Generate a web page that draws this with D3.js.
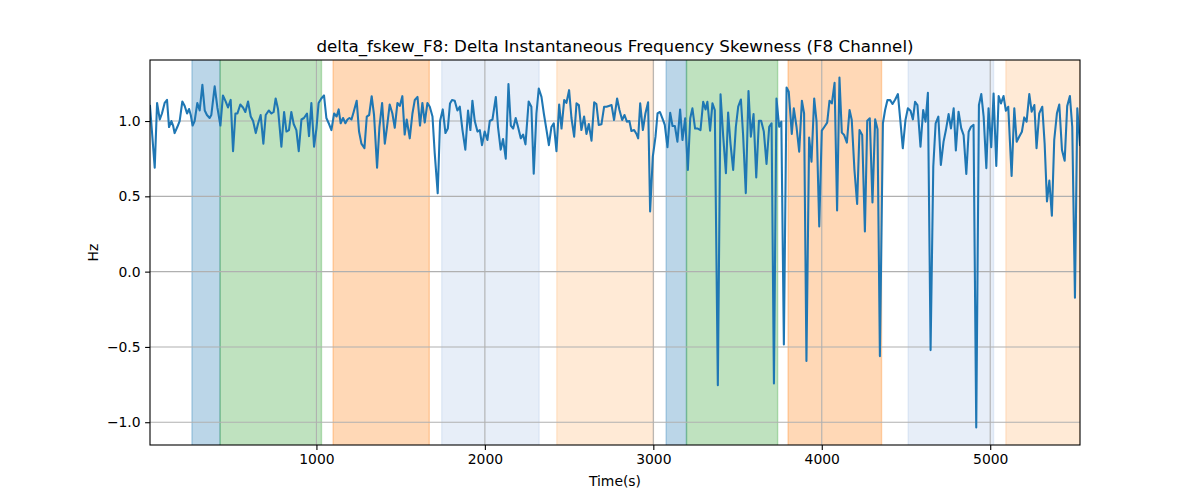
<!DOCTYPE html>
<html><head><meta charset="utf-8">
<script src="https://cdn.jsdelivr.net/npm/d3@7"></script>
<style>body{margin:0;background:#fff} svg{display:block} text{font-family:"DejaVu Sans",sans-serif;fill:#000}</style>
</head><body><svg id="c" width="1200" height="500"></svg>
<script>
const times = [
12,40,54,70,83,99,113,125,139,149,158,174,188,204,218,232,244,254,265,277,
293,307,323,337,350,366,376,396,412,430,445,461,475,491,505,519,531,548,564,578,
594,610,624,640,653,669,685,699,717,733,746,758,772,792,808,822,837,851,865,881,
895,911,926,944,956,970,986,1000,1013,1029,1045,1059,1075,1089,1105,1120,
1132,1144,1158,1172,1184,1196,1208,1221,1239,1253,1267,1285,1299,1313,1328,1342,1360,1374,1390,1406,
1419,1435,1451,1465,1481,1495,1510,1524,1536,1554,1570,1584,1600,1615,1629,1643,1659,1673,1689,1702,
1720,1734,1750,1766,1780,1793,1805,1821,1837,1851,1867,1884,1900,1914,1926,1940,1956,1970,1983,1999,
2015,2029,2045,2065,2078,2094,2108,2124,2140,2154,2168,2183,2197,2213,2227,2241,2260,2276,2290,
2306,2320,2336,2350,2366,2380,2395,2409,2425,2441,2455,2471,2484,2500,2514,2530,2544,2558,2573,2589,
2603,2617,2633,2649,2662,2676,2692,2708,2722,2736,2752,2767,2785,2799,2815,2829,2843,2858,2870,2886,
2900,2910,2922,2938,2953,2969,2981,2997,3013,3025,3039,3054,3068,3084,3100,3114,3128,3143,3159,3173,
3189,3205,3219,3232,3248,3264,3280,3296,3310,3321,3337,3351,3365,3383,
3399,3415,3431,3444,3458,3474,3490,3504,3520,3533,3549,3565,3579,3595,3611,3627,3640,3656,3672,3688,
3702,3716,3731,3747,3760,3775,3791,3804,3822,3834,3850,3866,
3882,3895,3909,3925,3939,3955,3969,3985,4000,4016,4032,4046,4060,4076,4091,4105,4119,4133,4149,4165,
4178,4194,4210,4224,4240,4256,4270,4285,4301,4317,4331,4345,4363,4376,4390,4406,4420,4436,4452,4467,
4481,4497,4511,4527,4541,4554,4568,4586,4602,4616,4630,4646,
4662,4676,4692,4707,4723,4737,4753,4767,4783,4796,4812,4828,4842,4858,4872,4886,4901,4917,4933,4947,
4961,4977,4990,5006,5020,5036,5050,5064,5079,5093,5107,5127,5143,5157,5172,5188,5202,5216,5232,5246,
5262,5275,5291,5309,5323,5337,5351,5366,5380,5396,5410,5426,5442,5457,5473,5487,5503,5517,5533
];
const values = [
1.10,0.69,1.12,1.01,1.05,1.12,1.14,0.96,1.00,0.97,0.92,0.96,1.00,1.13,1.10,1.05,1.08,1.04,0.97,1.00,
1.12,1.07,1.24,1.07,1.04,1.02,1.04,1.23,1.09,0.97,1.17,1.13,1.09,1.14,0.80,1.05,1.05,1.11,1.09,1.06,
1.13,1.03,1.00,0.92,0.98,1.04,0.85,1.04,1.07,1.05,1.06,1.15,1.08,0.83,1.06,0.93,0.94,1.06,0.98,0.94,
0.80,1.01,1.02,1.05,0.90,1.12,0.83,0.95,1.12,1.15,1.17,1.02,0.98,0.94,1.05,1.03,
1.077,0.985,1.02,0.985,1.01,1.02,1.01,1.06,1.135,0.93,0.85,0.82,1.03,1.04,1.165,1.04,0.69,0.96,1.12,0.85,
0.96,1.11,1.05,0.955,1.12,1.10,1.165,0.91,1.01,0.885,1.05,1.14,1.16,0.97,1.12,0.99,1.12,1.095,1.03,0.79,
0.52,1.00,1.077,0.92,0.95,1.117,1.14,1.135,1.07,1.095,0.94,0.81,1.07,0.94,1.135,1.00,0.93,0.94,0.84,0.93,
0.874,1.00,1.01,1.16,0.96,0.81,0.88,0.75,1.245,0.97,0.95,1.02,0.96,0.885,0.91,0.845,1.13,1.095,0.65,
1.05,1.216,1.16,1.05,0.94,0.84,0.96,0.985,0.80,1.11,0.95,1.14,1.12,1.205,1.02,0.896,1.117,1.106,0.94,1.03,
0.914,0.98,0.87,1.124,1.113,0.974,0.978,1.095,1.095,1.10,1.106,1.007,1.15,1.073,1.007,1.04,0.996,1.00,0.934,0.94,
0.914,0.885,1.117,0.94,1.05,1.124,0.40,0.764,0.896,1.05,1.06,1.018,0.974,0.826,1.055,0.967,0.967,0.863,1.077,0.874,
1.018,0.675,1.018,1.084,0.95,0.95,0.94,1.128,1.077,1.128,0.936,1.117,1.073,-0.755,
1.177,0.896,0.653,1.057,0.852,0.675,0.962,1.095,1.143,0.907,0.521,1.199,0.896,1.046,0.625,1.002,1.002,0.93,0.715,0.962,
0.985,-0.742,1.15,0.962,0.996,-0.483,1.223,1.194,0.914,1.084,0.962,0.797,
1.135,1.05,-0.594,0.89,0.73,1.15,0.996,0.30,0.936,0.962,0.989,1.135,1.117,1.254,0.406,1.289,0.923,0.907,0.857,1.073,
1.007,0.675,0.45,0.94,0.907,0.267,1.002,1.018,0.459,1.011,0.945,-0.561,0.985,1.073,1.139,1.139,1.113,1.143,1.179,0.996,
0.819,1.007,1.084,1.068,1.011,1.128,1.106,0.83,1.073,0.996,1.188,-0.521,
0.698,0.985,1.029,0.709,0.863,0.94,1.046,0.951,1.084,0.804,1.062,0.951,0.907,0.649,0.929,0.962,0.974,-1.035,1.106,1.179,
1.029,0.687,1.084,0.826,1.183,0.702,1.166,1.117,1.166,1.068,1.095,0.636,1.084,0.863,0.896,0.929,1.024,0.996,1.179,1.062,
1.106,0.819,1.051,1.095,0.852,0.466,0.605,0.371,0.874,1.051,1.11,0.808,0.737,1.099,1.166,0.962,-0.174,1.084,0.841
];
const bandStarts = [261, 428, 1099, 1744, 2427, 3076, 3197, 3800, 4513, 5093];
const bandEnds   = [428, 1030, 1670, 2322, 3001, 3197, 3738, 4355, 5020, 5533];
const bandColors = ["#1f77b4","#2ca02c","#ff7f0e","#aec7e8","#ffbb78","#1f77b4","#2ca02c","#ff7f0e","#aec7e8","#ffbb78"];
const xTicks = [1000, 2000, 3000, 4000, 5000];
const yTicks = [-1.0, -0.5, 0.0, 0.5, 1.0];
const titleText = "delta_fskew_F8: Delta Instantaneous Frequency Skewness (F8 Channel)";
const xLabel = "Time(s)";
const yLabel = "Hz";

const L = 150, R = 1080, T = 60, B = 445;
const svg = d3.select("#c");
const data = times.map((t, i) => ({t, v: values[i]}));
const x = d3.scaleLinear().domain(d3.extent(times)).range([L, R]);
const [ymin, ymax] = d3.extent(values);
const pad = (ymax - ymin) * 0.05;
const y = d3.scaleLinear().domain([ymin - pad, ymax + pad]).range([B, T]);

svg.append("defs").append("clipPath").attr("id", "clip")
  .append("rect").attr("x", L).attr("y", T).attr("width", R - L).attr("height", B - T);

const plot = svg.append("g").attr("clip-path", "url(#clip)");
plot.selectAll("rect.band").data(bandStarts).join("rect")
  .attr("class", "band")
  .attr("x", (d) => x(d))
  .attr("y", T - 2)
  .attr("width", (d, i) => x(bandEnds[i]) - x(d))
  .attr("height", B - T + 4)
  .attr("fill", (d, i) => bandColors[i])
  .attr("fill-opacity", 0.3)
  .attr("stroke", (d, i) => bandColors[i])
  .attr("stroke-opacity", 0.3)
  .attr("stroke-width", 1.4);

// grid
plot.selectAll("line.gx").data(xTicks).join("line")
  .attr("x1", d => x(d)).attr("x2", d => x(d)).attr("y1", T).attr("y2", B)
  .attr("stroke", "#b0b0b0").attr("stroke-width", 1.1);
plot.selectAll("line.gy").data(yTicks).join("line")
  .attr("y1", d => y(d)).attr("y2", d => y(d)).attr("x1", L).attr("x2", R)
  .attr("stroke", "#b0b0b0").attr("stroke-width", 1.1);

plot.append("path").datum(data)
  .attr("d", d3.line().x(d => x(d.t)).y(d => y(d.v)))
  .attr("fill", "none").attr("stroke", "#1f77b4").attr("stroke-width", 2.08)
  .attr("stroke-linejoin", "round").attr("stroke-linecap", "square");

// axes
const fmtY = v => d3.format(".1f")(v).replace("-", "\u2212");
const xAxis = d3.axisBottom(x).tickValues(xTicks).tickFormat(d3.format("d")).tickSizeOuter(0).tickSize(4.9).tickPadding(4.5);
const yAxis = d3.axisLeft(y).tickValues(yTicks).tickFormat(fmtY).tickSizeOuter(0).tickSize(4.9).tickPadding(4.5);
const gx = svg.append("g").attr("transform", `translate(0,${B})`).call(xAxis);
const gy = svg.append("g").attr("transform", `translate(${L},0)`).call(yAxis);
[gx, gy].forEach(g => {
  g.select(".domain").remove();
  g.selectAll(".tick line").attr("stroke", "#000").attr("stroke-width", 1.1);
  g.selectAll(".tick text").attr("font-size", "13.9px").attr("font-family", "DejaVu Sans").attr("fill", "#000");
});

svg.append("rect").attr("x", L).attr("y", T).attr("width", R - L).attr("height", B - T)
  .attr("fill", "none").attr("stroke", "#000").attr("stroke-width", 1.1);

svg.append("text").attr("x", (L + R) / 2).attr("y", 52).attr("text-anchor", "middle")
  .attr("font-size", "16.7px").text(titleText);
svg.append("text").attr("x", (L + R) / 2).attr("y", 486).attr("text-anchor", "middle")
  .attr("font-size", "13.9px").text(xLabel);
svg.append("text").attr("transform", `translate(98,${(T + B) / 2}) rotate(-90)`).attr("text-anchor", "middle")
  .attr("font-size", "13.9px").text(yLabel);
</script></body></html>
